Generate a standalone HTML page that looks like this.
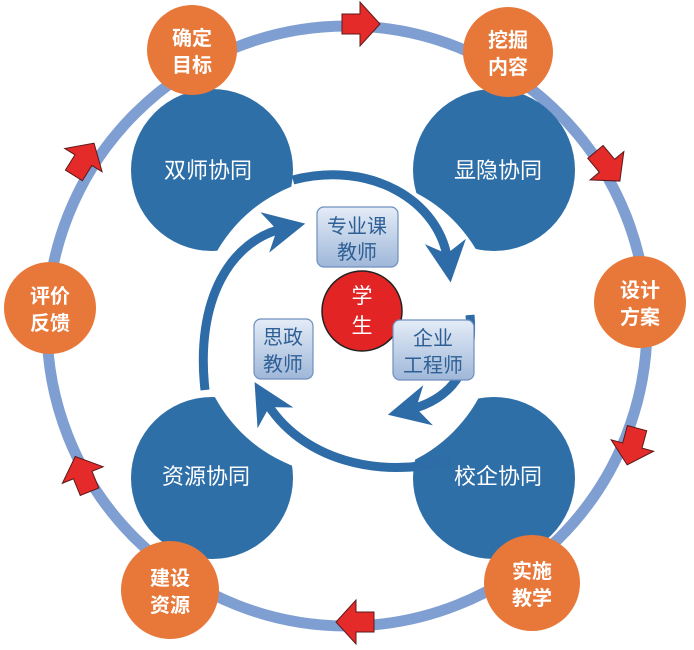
<!DOCTYPE html>
<html><head><meta charset="utf-8"><style>
body{margin:0;background:#fff}
svg{display:block}
text{font-family:"Liberation Sans","Noto Sans CJK SC",sans-serif}
</style></head><body>
<svg width="694" height="650" viewBox="0 0 694 650" xmlns="http://www.w3.org/2000/svg">
<defs>
<linearGradient id="bx" x1="0" y1="0" x2="0" y2="1"><stop offset="0" stop-color="#e4ecf7"/><stop offset="1" stop-color="#9fb7d9"/></linearGradient>
<marker id="ah" viewBox="0 0 10 10" refX="5" refY="5" markerWidth="4.6" markerHeight="4.6" orient="auto" markerUnits="strokeWidth"><path d="M0,0 L10,5 L0,10 L3,5 z" fill="#2e6ca8"/></marker>
</defs>
<circle cx="347" cy="326" r="300" fill="none" stroke="#7f9fd2" stroke-width="11"/>
<g fill="#2f6fa8">
<circle cx="212" cy="170" r="81"/>
<circle cx="494" cy="170" r="81"/>
<circle cx="212" cy="478" r="81"/>
<circle cx="494" cy="478" r="81"/>
</g>
<circle cx="347" cy="326" r="150" fill="#fff"/>
<g fill="#fff" font-size="22">
<text x="208" y="178" text-anchor="middle">双师协同</text>
<text x="498" y="178" text-anchor="middle">显隐协同</text>
<text x="206" y="484" text-anchor="middle">资源协同</text>
<text x="498" y="484" text-anchor="middle">校企协同</text>
</g>
<g fill="none" stroke="#2e6ca8" stroke-width="9">
<path d="M293,180 C370,160 440,200 448,262" marker-end="url(#ah)"/>
<path d="M470,315 C475,370 450,400 408,410" marker-end="url(#ah)"/>
<path d="M450,460 C380,480 300,460 265,400" marker-end="url(#ah)"/>
<path d="M205,390 C195,300 230,240 285,228" marker-end="url(#ah)"/>
</g>
<circle cx="362" cy="311" r="40" fill="#e32424" stroke="#222" stroke-width="1.5"/>
<text x="362" y="303" fill="#fff" font-size="21" text-anchor="middle">学</text>
<text x="362" y="333" fill="#fff" font-size="21" text-anchor="middle">生</text>
<g stroke="#6f8fbf" stroke-width="1.2" fill="url(#bx)">
<rect x="317" y="207" width="81" height="60" rx="7"/>
<rect x="254" y="319" width="59" height="60" rx="7"/>
<rect x="393" y="320" width="81" height="60" rx="7"/>
</g>
<g fill="#2e5f95" font-size="20" text-anchor="middle">
<text x="357" y="233">专业课</text><text x="357" y="259">教师</text>
<text x="283" y="344">思政</text><text x="283" y="371">教师</text>
<text x="433" y="345">企业</text><text x="433" y="372">工程师</text>
</g>
<g fill="#e8783a">
<circle cx="192" cy="50" r="45"/>
<circle cx="508" cy="52" r="45"/>
<circle cx="640" cy="302" r="46"/>
<circle cx="532" cy="583" r="48"/>
<circle cx="170" cy="590" r="49"/>
<circle cx="50" cy="308" r="46"/>
</g>
<g fill="#fff" font-size="20" font-weight="bold" text-anchor="middle">
<text x="192" y="45">确定</text><text x="192" y="72">目标</text>
<text x="508" y="47">挖掘</text><text x="508" y="74">内容</text>
<text x="640" y="297">设计</text><text x="640" y="324">方案</text>
<text x="532" y="578">实施</text><text x="532" y="605">教学</text>
<text x="170" y="585">建设</text><text x="170" y="612">资源</text>
<text x="50" y="303">评价</text><text x="50" y="330">反馈</text>
</g>
<g fill="#e52a2a" stroke="#5a1a1a" stroke-width="1">
<path d="M-4,-10 L14,-10 L14,-22 L34,0 L14,22 L14,10 L-4,10 z" transform="translate(346,24)"/>
<path d="M-4,-10 L14,-10 L14,-22 L34,0 L14,22 L14,10 L-4,10 z" transform="translate(598,155) rotate(50)"/>
<path d="M-4,-10 L14,-10 L14,-22 L34,0 L14,22 L14,10 L-4,10 z" transform="translate(636,432) rotate(105)"/>
<path d="M-4,-10 L14,-10 L14,-22 L34,0 L14,22 L14,10 L-4,10 z" transform="translate(370,622) rotate(180)"/>
<path d="M-4,-10 L14,-10 L14,-22 L34,0 L14,22 L14,10 L-4,10 z" transform="translate(88,488) rotate(-112)"/>
<path d="M-4,-10 L14,-10 L14,-22 L34,0 L14,22 L14,10 L-4,10 z" transform="translate(76,172) rotate(-58)"/>
</g>
</svg>
</body></html>
